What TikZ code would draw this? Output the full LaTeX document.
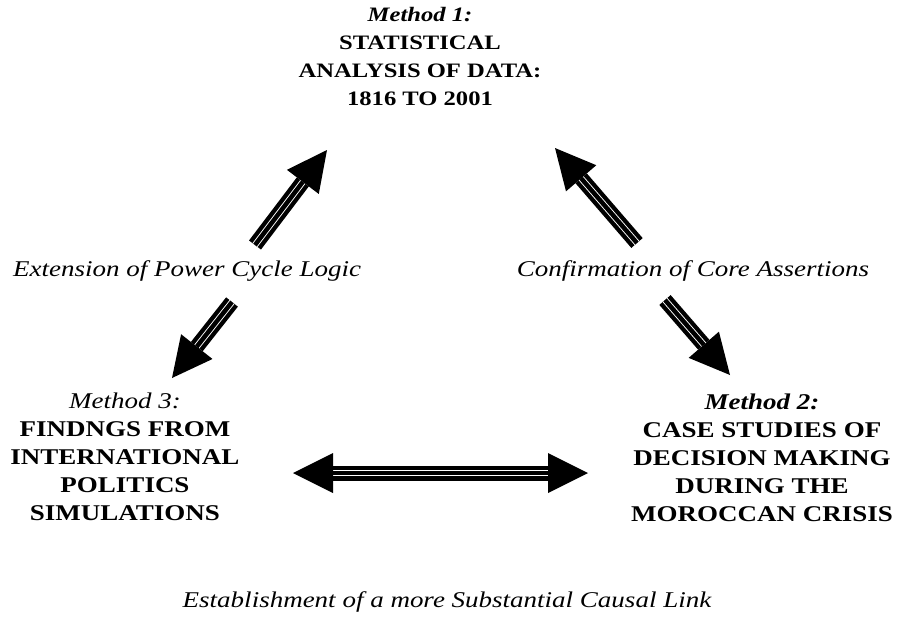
\documentclass[tikz,border=0pt]{standalone}
\usepackage{fontspec}
\setmainfont{Liberation Serif}
\newfontfamily\labfont[FakeStretch=1.2]{Liberation Serif}
\usetikzlibrary{calc}
\tikzset{
  blk/.style={align=center, inner sep=0pt, anchor=north, font=\labfont\fontsize{22.5}{28}\selectfont\bfseries},
  topblk/.style={blk, font=\labfont\fontsize{20.5}{28}\selectfont\bfseries},
  lbl/.style={inner sep=0pt, font=\labfont\fontsize{22.5}{27}\selectfont\itshape},
  shaft/.style={line width=15pt, black},
  stripes/.style={white, line width=0.9pt, double=black, double distance=4.5pt},
  headfill/.style={fill=black},
}
\newcommand\arrowhead[2]{% base #1, tip #2
  \fill[headfill] ($(#1)!20pt!90:(#2)$) -- (#2) -- ($(#1)!20pt!-90:(#2)$) -- cycle;}
\newcommand\bigarrow[2]{% start #1, tip #2
  \coordinate (#1-base) at ($(#2)!40pt!(#1)$);
  \draw[shaft] (#1) -- (#1-base);
  \draw[stripes] (#1) -- (#1-base);
  \arrowhead{#1-base}{#2}}
\begin{document}
\begin{tikzpicture}[x=1pt, y=-1pt]
  \useasboundingbox[fill=white] (0,0) rectangle (898,625);

  % method blocks
  \node[topblk] (m1) at (420,7) {{\itshape Method 1:}\\STATISTICAL\\ANALYSIS OF DATA:\\1816 TO 2001};
  \node[blk] (m2) at (762,394) {{\itshape Method 2:}\\CASE STUDIES OF\\DECISION MAKING\\DURING THE\\MOROCCAN CRISIS};
  \node[blk] (m3) at (125,393) {{\mdseries\itshape Method 3:}\\FINDNGS FROM\\INTERNATIONAL\\POLITICS\\SIMULATIONS};

  % labels
  \node[lbl] (l1) at (187,271) {Extension of Power Cycle Logic};
  \node[lbl] (l2) at (693,271) {Confirmation of Core Assertions};
  \node[lbl] (l3) at (447,602) {Establishment of a more Substantial Causal Link};

  % arrow end points
  \coordinate (a1s) at (255,245); \coordinate (a1t) at (327,150);
  \coordinate (a2s) at (232,302); \coordinate (a2t) at (172,378);
  \coordinate (a3s) at (637,243); \coordinate (a3t) at (555,148);
  \coordinate (a4s) at (665,300); \coordinate (a4t) at (730,375);
  \coordinate (hl) at (293,473); \coordinate (hr) at (588,473);

  \bigarrow{a1s}{a1t}
  \bigarrow{a2s}{a2t}
  \bigarrow{a3s}{a3t}
  \bigarrow{a4s}{a4t}

  % double-headed horizontal arrow
  \coordinate (hlb) at ($(hl)!40pt!(hr)$);
  \coordinate (hrb) at ($(hr)!40pt!(hl)$);
  \draw[shaft] (hlb) -- (hrb);
  \draw[stripes] (hlb) -- (hrb);
  \arrowhead{hlb}{hl}
  \arrowhead{hrb}{hr}
\end{tikzpicture}
\end{document}
